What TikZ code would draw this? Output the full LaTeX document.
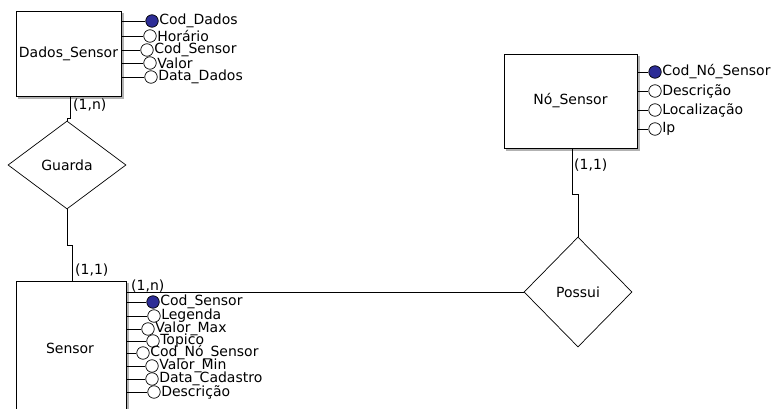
\documentclass[tikz,border=0pt]{standalone}
\usepackage{fontspec}
\setmainfont{DejaVu Sans}
\usetikzlibrary{shapes.geometric}
\definecolor{keyblue}{RGB}{45,45,150}
\begin{document}
\begin{tikzpicture}[x=1pt,y=-1pt,
  font=\fontsize{14}{16}\selectfont,
  every node/.style={inner sep=0pt},
  entity/.style={draw, line width=0.9pt, fill=white, align=center},
  rel/.style={draw, diamond, line width=0.7pt, fill=white},
  attr/.style={draw, circle, minimum size=12.5pt, line width=0.7pt, fill=white},
  keyattr/.style={attr, fill=keyblue},
  lbl/.style={anchor=west, xshift=0.5pt},
  card/.style={anchor=west},
  conn/.style={line width=0.8pt}
]
\useasboundingbox (0,0) rectangle (779,409);

% ---------- Dados_Sensor ----------
\draw[gray!60, line width=1.2pt] (123,13) -- (123,98) -- (18,98);
\node[entity, minimum width=105pt, minimum height=85pt] (ds) at (68.5,53.5) {Dados\_Sensor};

\node[keyattr] (d1) at (152,21) {};
\node[attr] (d2) at (150,36) {};
\node[attr] (d3) at (147,50) {};
\node[attr] (d4) at (150,63) {};
\node[attr] (d5) at (151,77) {};
\node[lbl] (t_d1) at (d1.east) {Cod\_Dados};
\node[lbl] (t_d2) at (d2.east) {Horário};
\node[lbl] (t_d3) at (d3.east) {Cod\_Sensor};
\node[lbl] (t_d4) at (d4.east) {Valor};
\node[lbl] (t_d5) at (d5.east) {Data\_Dados};
\foreach \a in {d1,d2,d3,d4,d5}
  \draw[conn] (\a.west -| ds.east) -- (\a.west);

% ---------- Guarda ----------
\node[rel, minimum width=118pt, minimum height=88pt] (guarda) at (67,165) {Guarda};
\draw[conn] ([xshift=1.5pt]ds.south) -- ++(0,22) -| (guarda.north);
\node[card] (c1) at (73,105) {(1,n)};

% ---------- Sensor ----------
\draw[gray!60, line width=1.2pt] (128,283) -- (128,420);
\node[entity, minimum width=110pt, minimum height=140pt] (sensor) at (71,351) {};
\node (sensortxt) at (70,348) {Sensor};
\draw[conn] (guarda.south) -- ++(0,36) -| ([xshift=1pt]sensor.north);
\node[card] (c2) at (75,270) {(1,1)};

\node[keyattr] (s1) at (153,302) {};
\node[attr] (s2) at (154,316) {};
\node[attr] (s3) at (148,329) {};
\node[attr] (s4) at (153,341) {};
\node[attr] (s5) at (143,353) {};
\node[attr] (s6) at (152,366) {};
\node[attr] (s7) at (152,379) {};
\node[attr] (s8) at (154,392) {};
\node[lbl] (t_s1) at (s1.east) {Cod\_Sensor};
\node[lbl] (t_s2) at (s2.east) {Legenda};
\node[lbl] (t_s3) at (s3.east) {Valor\_Max};
\node[lbl] (t_s4) at (s4.east) {Topico};
\node[lbl] (t_s5) at (s5.east) {Cod\_Nó\_Sensor};
\node[lbl] (t_s6) at (s6.east) {Valor\_Min};
\node[lbl] (t_s7) at (s7.east) {Data\_Cadastro};
\node[lbl] (t_s8) at (s8.east) {Descrição};
\foreach \a in {s1,s2,s3,s4,s5,s6,s7,s8}
  \draw[conn] (\a.west -| sensor.east) -- (\a.west);

% ---------- Possui ----------
\node[rel, minimum width=108pt, minimum height=110pt] (possui) at (578,292) {Possui};
\draw[conn] (possui.west -| sensor.east) -- (possui.west);
\node[card] (c3) at (131,286) {(1,n)};

% ---------- Nó_Sensor ----------
\draw[gray!60, line width=1.2pt] (639,56) -- (639,150) -- (506,150);
\node[entity, minimum width=133pt, minimum height=94pt] (ns) at (570.5,101) {Nó\_Sensor};
\draw[conn] (possui.north) -- ++(0,-42) -| ([xshift=1.5pt]ns.south);
\node[card] (c4) at (574,165) {(1,1)};

\node[keyattr] (n1) at (655,72) {};
\node[attr] (n2) at (655,91) {};
\node[attr] (n3) at (655,110) {};
\node[attr] (n4) at (655,129) {};
\node[lbl] (t_n1) at (n1.east) {Cod\_Nó\_Sensor};
\node[lbl] (t_n2) at (n2.east) {Descrição};
\node[lbl] (t_n3) at (n3.east) {Localização};
\node[lbl] (t_n4) at (n4.east) {Ip};
\foreach \a in {n1,n2,n3,n4}
  \draw[conn] (\a.west -| ns.east) -- (\a.west);
\end{tikzpicture}
\end{document}
